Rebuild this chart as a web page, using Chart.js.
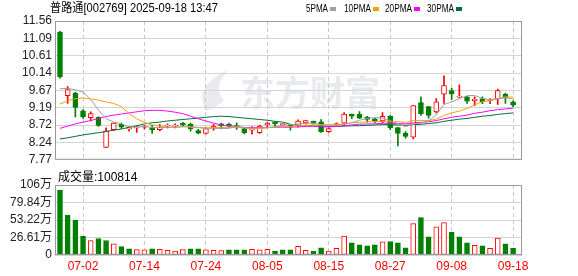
<!DOCTYPE html>
<html>
<head>
<meta charset="utf-8">
<script src="https://cdn.jsdelivr.net/npm/chart.js@4.4.1/dist/chart.umd.min.js"></script>
<style>
    html, body { margin: 0; padding: 0; background: #fff; }
    #wrap { position: relative; width: 578px; height: 276px; }
    #priceChart { position: absolute; left: 0; top: 0; }
    #volChart { position: absolute; left: 0; top: 170px; }
</style>
</head>
<body>
<div id="wrap">
    <canvas id="priceChart" width="578" height="170"></canvas>
    <canvas id="volChart" width="578" height="106"></canvas>
</div>
<script>
// trading days shown (MM-DD)
var dates = ['06-27', '06-30', '07-01', '07-02', '07-03', '07-04', '07-07', '07-08', '07-09', '07-10',
    '07-11', '07-14', '07-15', '07-16', '07-17', '07-18', '07-21', '07-22', '07-23', '07-24',
    '07-25', '07-28', '07-29', '07-30', '07-31', '08-01', '08-04', '08-05', '08-06', '08-07',
    '08-08', '08-11', '08-12', '08-13', '08-14', '08-15', '08-18', '08-19', '08-20', '08-21',
    '08-22', '08-25', '08-26', '08-27', '08-28', '08-29', '09-01', '09-02', '09-03', '09-04',
    '09-05', '09-08', '09-09', '09-10', '09-11', '09-12', '09-15', '09-16', '09-17', '09-18'];
var tickDates = ['07-02', '07-14', '07-24', '08-05', '08-15', '08-27', '09-08', '09-18'];

// K线
var openP = [11.26, 9.52, 9.59, 9.11, 8.92, 8.93, 8.11, 8.59, 8.74, 8.61,
    8.64, 8.66, 8.65, 8.59, 8.69, 8.69, 8.77, 8.74, 8.57, 8.49,
    8.64, 8.75, 8.74, 8.70, 8.62, 8.58, 8.51, 8.72, 8.79, 8.73,
    8.72, 8.71, 8.78, 8.83, 8.81, 8.54, 8.73, 8.77, 9.02, 9.02,
    8.93, 8.89, 8.83, 8.96, 8.65, 8.50, 8.39, 9.33, 9.22, 9.08,
    9.56, 9.66, 9.48, 9.49, 9.38, 9.44, 9.39, 9.43, 9.56, 9.35];
var highP = [11.28, 9.77, 9.61, 9.14, 9.08, 8.94, 8.64, 8.78, 8.77, 8.67,
    8.69, 8.71, 8.71, 8.74, 8.75, 8.75, 8.79, 8.77, 8.60, 8.65,
    8.74, 8.77, 8.77, 8.78, 8.64, 8.68, 8.72, 8.79, 8.80, 8.76,
    8.74, 8.86, 8.85, 8.83, 8.87, 8.64, 8.78, 9.06, 9.02, 9.09,
    8.96, 8.91, 9.06, 8.98, 8.66, 8.54, 9.26, 9.49, 9.23, 9.44,
    10.06, 9.72, 9.82, 9.50, 9.49, 9.49, 9.44, 9.70, 9.59, 9.38];
var lowP = [10.00, 9.31, 8.94, 8.90, 8.83, 8.68, 8.10, 8.57, 8.63, 8.55,
    8.52, 8.61, 8.49, 8.56, 8.64, 8.64, 8.69, 8.55, 8.48, 8.48,
    8.58, 8.62, 8.64, 8.60, 8.48, 8.47, 8.49, 8.66, 8.68, 8.70,
    8.58, 8.66, 8.75, 8.74, 8.52, 8.52, 8.70, 8.70, 8.89, 8.89,
    8.80, 8.78, 8.77, 8.59, 8.15, 8.36, 8.34, 8.98, 8.91, 9.05,
    9.31, 9.42, 9.46, 9.31, 9.25, 9.30, 9.30, 9.28, 9.31, 9.22];
var closeP = [10.03, 9.69, 9.20, 8.94, 9.03, 8.71, 8.56, 8.77, 8.66, 8.65,
    8.66, 8.67, 8.59, 8.66, 8.70, 8.71, 8.72, 8.61, 8.50, 8.62,
    8.69, 8.70, 8.69, 8.68, 8.51, 8.59, 8.69, 8.77, 8.75, 8.74,
    8.67, 8.83, 8.84, 8.77, 8.54, 8.62, 8.75, 9.02, 8.96, 8.91,
    8.87, 8.83, 8.96, 8.65, 8.49, 8.41, 9.25, 9.03, 8.98, 9.35,
    9.80, 9.57, 9.49, 9.37, 9.43, 9.35, 9.40, 9.66, 9.47, 9.26];

// 均线
var ma5 = [9.71, 9.72, 9.68, 9.62, 9.42, 9.13, 8.89, 8.80, 8.75, 8.67,
    8.66, 8.68, 8.65, 8.65, 8.65, 8.66, 8.67, 8.68, 8.65, 8.63,
    8.63, 8.62, 8.63, 8.68, 8.65, 8.63, 8.64, 8.65, 8.66, 8.71,
    8.73, 8.75, 8.77, 8.77, 8.73, 8.72, 8.70, 8.74, 8.78, 8.85,
    8.90, 8.92, 8.91, 8.84, 8.76, 8.67, 8.75, 8.77, 8.83, 9.00,
    9.28, 9.35, 9.44, 9.52, 9.53, 9.44, 9.41, 9.44, 9.46, 9.43];
var ma10 = [9.29, 9.38, 9.44, 9.46, 9.43, 9.40, 9.35, 9.31, 9.22, 9.03,
    8.89, 8.79, 8.72, 8.70, 8.66, 8.66, 8.68, 8.66, 8.65, 8.64,
    8.65, 8.65, 8.66, 8.66, 8.64, 8.63, 8.63, 8.64, 8.67, 8.68,
    8.68, 8.70, 8.71, 8.72, 8.72, 8.72, 8.73, 8.75, 8.78, 8.79,
    8.81, 8.81, 8.82, 8.81, 8.81, 8.79, 8.84, 8.84, 8.84, 8.88,
    8.98, 9.05, 9.10, 9.17, 9.27, 9.36, 9.38, 9.44, 9.49, 9.48];
var ma20 = [8.63, 8.69, 8.75, 8.80, 8.84, 8.90, 8.95, 8.99, 9.02, 9.05,
    9.08, 9.11, 9.12, 9.12, 9.10, 9.07, 9.03, 8.96, 8.89, 8.83,
    8.77, 8.72, 8.69, 8.68, 8.65, 8.65, 8.65, 8.65, 8.66, 8.66,
    8.66, 8.67, 8.68, 8.69, 8.68, 8.68, 8.68, 8.70, 8.72, 8.74,
    8.75, 8.75, 8.77, 8.76, 8.76, 8.75, 8.78, 8.79, 8.81, 8.84,
    8.89, 8.93, 8.96, 8.99, 9.04, 9.07, 9.11, 9.14, 9.16, 9.18];
var ma30 = [8.34, 8.37, 8.41, 8.45, 8.48, 8.51, 8.54, 8.58, 8.61, 8.66,
    8.70, 8.75, 8.78, 8.80, 8.83, 8.85, 8.87, 8.89, 8.91, 8.93,
    8.95, 8.96, 8.95, 8.93, 8.91, 8.89, 8.87, 8.85, 8.82, 8.80,
    8.74, 8.71, 8.70, 8.69, 8.67, 8.67, 8.68, 8.69, 8.70, 8.70,
    8.71, 8.72, 8.73, 8.73, 8.72, 8.71, 8.73, 8.74, 8.76, 8.78,
    8.82, 8.85, 8.88, 8.90, 8.93, 8.96, 8.98, 9.01, 9.03, 9.05];

// 成交量 (万手), 1 = 红柱
var volume = [98.8, 60.4, 52.7, 28.2, 22.0, 25.1, 22.0, 16.9, 12.8, 9.2,
    8.2, 7.7, 9.2, 8.7, 7.2, 6.1, 8.2, 9.2, 9.2, 7.7,
    7.2, 6.7, 7.7, 7.7, 7.7, 8.7, 7.7, 8.7, 6.1, 7.7,
    7.7, 13.3, 7.2, 6.1, 10.8, 6.1, 10.2, 28.7, 18.4, 15.4,
    13.8, 15.4, 20.0, 20.5, 18.4, 10.8, 47.6, 56.8, 27.6, 43.0,
    49.2, 34.3, 27.6, 18.4, 14.8, 13.8, 10.2, 25.6, 16.9, 10.08];
var volUp = [0, 0, 0, 0, 1, 0, 0, 1, 0, 0,
    1, 1, 0, 1, 1, 1, 1, 0, 0, 1,
    1, 1, 0, 0, 0, 1, 1, 1, 0, 0,
    0, 1, 1, 0, 0, 1, 1, 1, 0, 0,
    0, 0, 1, 0, 0, 0, 1, 0, 0, 1,
    1, 0, 0, 0, 1, 0, 1, 1, 0, 0];
var lastVolume = 100814;

var priceTicks = [7.77, 8.24, 8.72, 9.19, 9.67, 10.14, 10.61, 11.09, 11.56];
var volTicks = [0, 26.61, 53.22, 79.83, 106.44];
var volTickLabels = ['0', '26.61万', '53.22万', '79.84万', '106万'];

var RED = '#ff0000';
var GREEN = '#008000';
var maColors = ['#a0a0a0', '#f0a30a', '#ff00ff', '#006f38'];

Chart.defaults.font.family = '"Liberation Sans", "Noto Sans CJK SC", sans-serif';
Chart.defaults.font.size = 12;
Chart.defaults.color = '#222';

var tickIdx = tickDates.map(function (d) { return dates.indexOf(d); });

function fixTicks(values) {
    return function (scale) {
        scale.ticks = values.map(function (v) { return { value: v }; });
    };
}

// 文字按参考宽度横向压缩
function drawText(ctx, text, x, y, width, font, color) {
    ctx.save();
    ctx.font = font;
    ctx.fillStyle = color;
    ctx.textBaseline = 'middle';
    var w = ctx.measureText(text).width;
    ctx.translate(x, y);
    if (width) ctx.scale(width / w, 1);
    ctx.fillText(text, 0, 0);
    ctx.restore();
}

// 外框
var framePlugin = {
    id: 'frame',
    afterDraw: function (chart) {
        var a = chart.chartArea, ctx = chart.ctx;
        ctx.save();
        ctx.strokeStyle = '#999';
        ctx.lineWidth = 1;
        ctx.strokeRect(a.left + 0.5, a.top + 0.5, a.right - a.left - 1, a.bottom - a.top - 1);
        ctx.restore();
    }
};

// 水印
var watermarkPlugin = {
    id: 'watermark',
    beforeDraw: function (chart) {
        var ctx = chart.ctx;
        ctx.save();
        ctx.fillStyle = '#e9eaee';
        ctx.beginPath();
        ctx.moveTo(206, 111);
        ctx.quadraticCurveTo(192, 86, 228, 70);
        ctx.quadraticCurveTo(212, 88, 224, 100);
        ctx.quadraticCurveTo(216, 108, 206, 111);
        ctx.fill();
        ctx.font = 'bold 35px "Noto Sans CJK SC"';
        ctx.textBaseline = 'middle';
        ctx.fillText('东方财富', 240, 93);
        ctx.restore();
    }
};

// 标题和均线图例
var headerPlugin = {
    id: 'header',
    afterDraw: function (chart) {
        var ctx = chart.ctx;
        var font = '12px "Liberation Sans", "Noto Sans CJK SC"';
        drawText(ctx, '普路通[002769] 2025-09-18 13:47', 50, 8.5, 168, font, '#000');
        var items = [['5PMA', 306, 22, 330], ['10PMA', 344, 27, 373], ['20PMA', 385, 27, 414], ['30PMA', 427, 27, 456]];
        items.forEach(function (it, i) {
            drawText(ctx, it[0], it[1], 8.5, it[2], '11px "Liberation Sans"', '#000');
            ctx.fillStyle = maColors[i];
            ctx.fillRect(it[3], 7, 6, 4);
        });
    }
};

var volLabelPlugin = {
    id: 'volLabel',
    afterDraw: function (chart) {
        drawText(chart.ctx, '成交量:' + lastVolume, 58, 7.5, 0, '12px "Liberation Sans", "Noto Sans CJK SC"', '#000');
    }
};

function lineData(arr) {
    return arr.map(function (v, i) { return { x: i, y: v }; });
}

var candleUp = closeP.map(function (c, i) { return c >= openP[i]; });

var xScale = {
    type: 'linear',
    min: -0.65,
    max: 60.16,
    offset: false,
    afterBuildTicks: fixTicks(tickIdx),
    grid: { color: '#c8c8c8', drawTicks: false, offset: false },
    border: { display: false, dash: [4, 3] }
};

var priceChart = new Chart(document.getElementById('priceChart'), {
    data: {
        datasets: [
            { type: 'line', data: lineData(ma5), borderColor: maColors[0], borderWidth: 1, pointRadius: 0, order: 0 },
            { type: 'line', data: lineData(ma10), borderColor: maColors[1], borderWidth: 1, pointRadius: 0, order: 0 },
            { type: 'line', data: lineData(ma20), borderColor: maColors[2], borderWidth: 1, pointRadius: 0, order: 0 },
            { type: 'line', data: lineData(ma30), borderColor: maColors[3], borderWidth: 1, pointRadius: 0, order: 0 },
            {
                type: 'bar',
                data: openP.map(function (o, i) { return { x: i, y: [o, closeP[i]] }; }),
                backgroundColor: candleUp.map(function (u) { return u ? '#fff' : GREEN; }),
                borderColor: candleUp.map(function (u) { return u ? RED : GREEN; }),
                borderWidth: 1,
                borderSkipped: false,
                barThickness: 5,
                minBarLength: 1,
                grouped: false,
                order: 1
            },
            {
                type: 'bar',
                data: lowP.map(function (l, i) { return { x: i, y: [l, highP[i]] }; }),
                backgroundColor: candleUp.map(function (u) { return u ? RED : GREEN; }),
                barThickness: 1,
                grouped: false,
                order: 2
            }
        ]
    },
    options: {
        responsive: false,
        animation: false,
        layout: { padding: { left: 0, right: 56, top: 21, bottom: 5 } },
        plugins: { legend: { display: false }, tooltip: { enabled: false } },
        scales: {
            x: Object.assign({}, xScale, {
                ticks: { display: false },
                afterFit: function (scale) { scale.height = 0; }
            }),
            y: {
                type: 'linear',
                min: 7.77,
                max: 11.56,
                afterBuildTicks: fixTicks(priceTicks),
                afterFit: function (scale) { scale.width = 55; },
                ticks: { padding: 3, color: '#222', callback: function (v) { return v.toFixed(2); } },
                grid: { color: '#d4d4d4', drawTicks: false },
                border: { display: false }
            }
        }
    },
    plugins: [watermarkPlugin, framePlugin, headerPlugin]
});

var volChart = new Chart(document.getElementById('volChart'), {
    type: 'bar',
    data: {
        datasets: [{
            data: volume.map(function (v, i) { return { x: i, y: v }; }),
            backgroundColor: volUp.map(function (u) { return u ? '#fff' : GREEN; }),
            borderColor: volUp.map(function (u) { return u ? RED : GREEN; }),
            borderWidth: 1,
            borderSkipped: false,
            barThickness: 5
        }]
    },
    options: {
        responsive: false,
        animation: false,
        layout: { padding: { left: 0, right: 56, top: 15, bottom: 0 } },
        plugins: { legend: { display: false }, tooltip: { enabled: false } },
        scales: {
            x: Object.assign({}, xScale, {
                ticks: {
                    color: RED,
                    padding: 4,
                    autoSkip: false,
                    maxRotation: 0,
                    callback: function (v) { return dates[v]; }
                },
                afterFit: function (scale) { scale.height = 21; }
            }),
            y: {
                type: 'linear',
                min: 0,
                max: 106.44,
                afterBuildTicks: fixTicks(volTicks),
                afterFit: function (scale) { scale.width = 55; },
                ticks: {
                    padding: 3,
                    color: '#222',
                    callback: function (v) { return volTickLabels[volTicks.indexOf(v)]; }
                },
                grid: { color: '#d4d4d4', drawTicks: false },
                border: { display: false }
            }
        }
    },
    plugins: [framePlugin, volLabelPlugin]
});
</script>
</body>
</html>
